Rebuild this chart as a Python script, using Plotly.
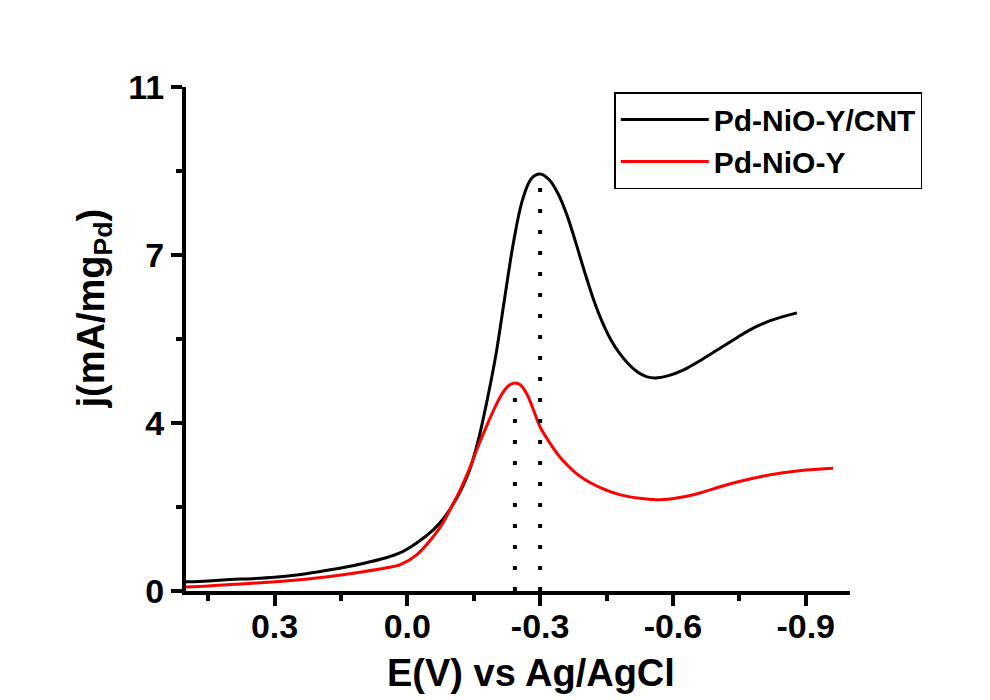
import plotly.graph_objects as go

# Data
cnt_x = [0.50, 0.45, 0.40, 0.35, 0.30, 0.25, 0.20, 0.15, 0.10, 0.05, 0.017, -0.021,
         -0.058, -0.08, -0.10, -0.12, -0.14, -0.16, -0.18, -0.20, -0.22, -0.24, -0.26,
         -0.28, -0.30, -0.32, -0.34, -0.36, -0.38, -0.40, -0.42, -0.44, -0.46, -0.48,
         -0.50, -0.52, -0.54, -0.56, -0.59, -0.623, -0.66, -0.70, -0.74, -0.774, -0.82,
         -0.88]
cnt_y = [0.20, 0.22, 0.25, 0.27, 0.30, 0.35, 0.42, 0.50, 0.60, 0.72, 0.83, 1.05,
         1.33, 1.56, 1.84, 2.18, 2.62, 3.28, 4.15, 5.15, 6.40, 7.62, 8.53,
         9.00, 9.10, 8.98, 8.68, 8.22, 7.62, 6.98, 6.38, 5.88, 5.48, 5.18,
         4.95, 4.78, 4.68, 4.65, 4.70, 4.82, 5.02, 5.26, 5.50, 5.70, 5.90,
         6.07]

y_x = [0.50, 0.45, 0.40, 0.35, 0.30, 0.25, 0.20, 0.15, 0.10, 0.05, 0.017, -0.021,
       -0.058, -0.08, -0.10, -0.12, -0.14, -0.16, -0.18, -0.20, -0.215, -0.23, -0.243,
       -0.255, -0.27, -0.285, -0.30, -0.32, -0.34, -0.36, -0.38, -0.40, -0.42, -0.44,
       -0.47, -0.50, -0.53, -0.571, -0.615, -0.661, -0.705, -0.75, -0.80, -0.849, -0.90,
       -0.962]
y_y = [0.09, 0.11, 0.14, 0.17, 0.20, 0.24, 0.29, 0.35, 0.42, 0.50, 0.57, 0.79,
       1.18, 1.48, 1.84, 2.22, 2.66, 3.16, 3.62, 4.05, 4.32, 4.49, 4.54,
       4.50, 4.30, 3.95, 3.58, 3.26, 2.98, 2.76, 2.58, 2.44, 2.33, 2.24,
       2.13, 2.06, 2.02, 1.99, 2.04, 2.14, 2.27, 2.39, 2.50, 2.58, 2.64,
       2.68]

peak_x = [-0.30, -0.243]
peak_y = [9.10, 4.54]

x_tickvals = [0.3, 0.0, -0.3, -0.6, -0.9]
x_ticktext = ["0.3", "0.0", "-0.3", "-0.6", "-0.9"]
x_minor = [0.45, 0.15, -0.15, -0.45, -0.75]
y_tickvals = [0, 11 / 3, 22 / 3, 11]
y_ticktext = ["0", "4", "7", "11"]
y_minor = [11 / 6, 11 / 2, 55 / 6]

FONT = "Liberation Sans, Arial, sans-serif"

fig = go.Figure()
fig.add_trace(go.Scatter(x=cnt_x, y=cnt_y, mode="lines", name="Pd-NiO-Y/CNT",
                         line=dict(color="black", width=3, shape="spline", smoothing=1.0)))
fig.add_trace(go.Scatter(x=y_x, y=y_y, mode="lines", name="Pd-NiO-Y",
                         line=dict(color="#ff0000", width=3, shape="spline", smoothing=1.0)))
for px, py in zip(peak_x, peak_y):
    fig.add_trace(go.Scatter(x=[px, px], y=[0, py], mode="lines", showlegend=False,
                             line=dict(color="black", width=4, dash="4px,17px")))

axis_common = dict(showline=True, linecolor="black", linewidth=4, ticks="outside",
                   ticklen=11, tickwidth=4, tickcolor="black", showgrid=False, zeroline=False,
                   tickfont=dict(family=FONT, size=34, color="black", weight="bold"))

fig.update_xaxes(range=[0.5, -1.0], tickmode="array", tickvals=x_tickvals, ticktext=x_ticktext,
                 ticklabelstandoff=-9,
                 minor=dict(tickvals=x_minor, ticks="outside", ticklen=6, tickwidth=4,
                            tickcolor="black"),
                 **axis_common)
fig.update_yaxes(range=[0, 11], tickmode="array", tickvals=y_tickvals, ticktext=y_ticktext,
                 minor=dict(tickvals=y_minor, ticks="outside", ticklen=6, tickwidth=4,
                            tickcolor="black"),
                 **axis_common)

fig.add_annotation(text="E(V) vs Ag/AgCl", xref="paper", yref="paper", x=0.52, y=-0.163,
                   showarrow=False, xanchor="center", yanchor="middle",
                   font=dict(family=FONT, size=38, color="black", weight="bold"))
fig.add_annotation(text="j(mA/mg<sub>Pd</sub>)", xref="paper", yref="paper", x=-0.139, y=0.56,
                   showarrow=False, xanchor="center", yanchor="middle", textangle=-90,
                   font=dict(family=FONT, size=38, color="black", weight="bold"))

fig.update_layout(
    width=990, height=700,
    margin=dict(l=178, r=148, t=79, b=117),
    paper_bgcolor="white", plot_bgcolor="white",
    showlegend=True,
    legend=dict(x=0.645, y=0.99, xanchor="left", yanchor="top",
                bordercolor="black", borderwidth=1.5, bgcolor="white",
                font=dict(family=FONT, size=30, color="black", weight="bold"),
                itemwidth=88, tracegroupgap=0),
)

fig.write_html("out.html")
